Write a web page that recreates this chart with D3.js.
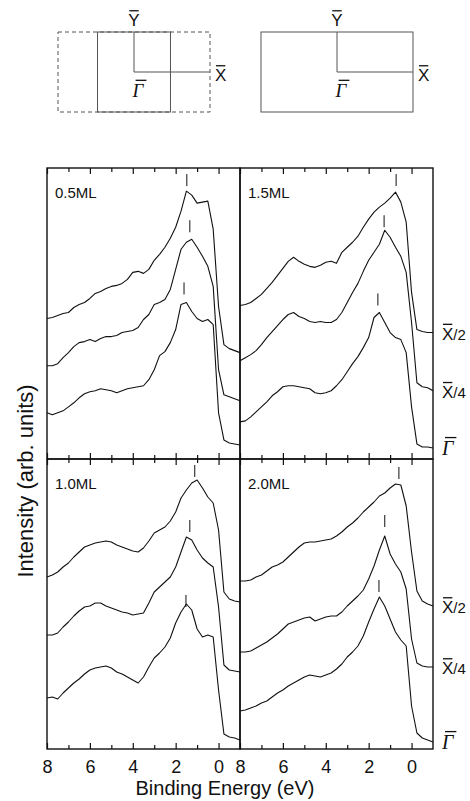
<!DOCTYPE html>
<html>
<head>
<meta charset="utf-8">
<script src="https://cdn.jsdelivr.net/npm/d3@7/dist/d3.min.js"></script>
<style>
  body { margin: 0; background: #fff; }
  svg { display: block; }
  text { font-family: "Liberation Sans", Arial, sans-serif; fill: #111; }
</style>
</head>
<body>
<div id="chart"></div>
<script>
let width = 470,
    height = 801;

// ----- DATA -----
// binding energy grid (eV)
let energy = [8, 7.75, 7.5, 7.25, 7, 6.75, 6.5, 6.25, 6, 5.75, 5.5, 5.25, 5, 4.75, 4.5, 4.25,
              4, 3.75, 3.5, 3.25, 3, 2.75, 2.5, 2.25, 2, 1.75, 1.5, 1.25, 1, 0.75, 0.5, 0.25,
              0, -0.25, -0.5, -0.75, -1];

let coverages = ["0.5ML", "1.5ML", "1.0ML", "2.0ML"];
let kPoints = ["X/2", "X/4", "Γ"];

// intensity (arb. units, curves already offset)
let ml05_x2 = [14.0,14.1,14.3,14.5,14.6,15.1,15.4,15.6,16.0,16.5,16.7,17.0,17.2,17.3,17.5,17.9,18.6,18.7,18.5,18.9,19.8,20.4,21.1,22.0,23.1,24.7,26.7,26.3,25.5,25.6,25.7,22.9,15.2,11.4,11.0,10.8,10.6];
let ml05_x4 = [9.3,9.3,9.5,10.1,10.6,11.2,11.6,11.7,11.9,11.7,12.0,12.2,12.2,12.3,12.6,12.7,12.8,13.1,13.9,14.4,15.4,15.6,15.9,16.9,18.9,20.9,21.6,21.9,21.1,20.2,19.2,17.2,8.9,6.4,6.2,6.0,5.8];
let ml05_g  = [4.6,4.4,4.6,4.8,5.2,5.6,6.1,6.5,6.7,6.8,7.0,6.9,6.8,6.6,6.8,7.0,7.1,7.2,7.3,7.9,8.9,10.3,10.7,11.6,12.9,15.4,15.6,14.7,14.0,13.7,13.9,13.4,4.6,1.9,1.6,1.5,1.4];

let ml15_x2 = [15.3,15.4,15.6,16.0,16.4,17.0,17.6,18.3,19.0,19.7,20.1,19.7,19.4,19.2,19.1,19.3,19.6,19.7,19.5,20.6,21.1,21.6,22.2,23.1,23.9,24.6,25.1,25.5,26.0,26.6,25.6,23.6,16.6,12.9,12.7,12.6,12.6];
let ml15_x4 = [9.8,10.1,10.4,10.8,11.4,12.1,12.7,13.3,13.9,14.4,14.6,14.2,14.0,13.7,13.6,13.7,13.6,13.6,13.9,14.6,15.6,16.6,17.5,18.7,19.8,20.6,21.4,22.8,22.1,21.1,20.2,18.6,13.6,7.6,7.2,7.1,6.8];
let ml15_g  = [3.7,3.8,4.2,4.7,5.2,5.7,6.3,6.7,7.2,7.3,7.3,7.2,7.1,7.0,6.6,6.5,6.6,6.8,7.3,7.9,8.7,9.5,10.2,11.1,12.1,14.1,14.6,13.6,12.6,12.1,11.9,10.6,5.2,1.5,1.2,1.2,1.1];

let ml10_x2 = [17.2,17.4,17.7,18.2,18.6,19.2,19.7,20.2,20.4,20.6,20.7,20.8,20.7,20.4,20.2,20.0,19.8,19.7,20.1,20.8,21.6,21.9,22.2,22.8,23.7,25.1,25.9,26.6,26.9,26.1,25.2,24.6,21.9,15.7,15.0,14.8,14.7];
let ml10_x4 = [11.4,11.4,11.6,12.2,12.7,13.3,13.8,14.2,14.3,14.6,14.6,14.3,14.1,13.9,13.7,13.6,13.4,13.5,13.6,14.6,15.7,16.2,16.7,17.2,18.2,19.7,21.2,20.9,19.9,19.1,18.6,18.2,14.2,8.4,7.9,7.8,7.7];
let ml10_g  = [5.1,5.2,5.0,5.6,6.1,6.6,7.0,7.5,7.9,8.1,8.2,8.3,8.1,7.7,7.5,7.2,6.9,6.6,7.2,8.2,9.1,9.6,10.2,11.1,12.6,13.7,14.5,13.9,12.0,11.2,11.4,11.2,5.9,1.5,1.2,1.1,0.9];

let ml20_x2 = [16.8,16.8,16.9,17.2,17.4,17.8,18.2,18.4,18.7,19.2,19.7,20.2,20.6,20.7,20.7,20.8,20.9,21.0,21.3,21.7,22.2,22.6,23.1,23.7,24.2,24.7,25.3,25.6,26.1,26.5,26.4,24.3,19.7,15.8,14.8,14.5,14.3];
let ml20_x4 = [9.7,9.7,9.8,10.1,10.4,10.7,11.1,11.5,12.0,12.5,12.7,12.9,13.1,13.2,12.8,13.0,13.2,13.3,13.3,13.7,14.3,14.8,15.3,15.9,17.0,18.3,19.9,21.3,19.5,18.5,17.7,16.0,11.0,8.6,8.3,8.2,8.2];
let ml20_g  = [3.8,3.9,4.1,4.3,4.6,4.8,5.2,5.6,5.9,6.3,6.6,6.9,7.2,7.4,7.3,7.2,7.4,7.6,8.0,8.5,9.2,9.7,10.3,11.3,12.7,14.0,15.2,14.3,13.0,11.7,10.9,10.3,4.3,1.6,1.1,0.9,0.7];

// peak markers: energy (eV) and intensity at the foot of the mark
let ml05_markE = [1.48, 1.34, 1.61], ml05_markI = [27.2, 22.6, 16.4];
let ml15_markE = [0.72, 1.28, 1.57], ml15_markI = [27.2, 23.1, 15.3];
let ml10_markE = [1.11, 1.34, 1.52], ml10_markI = [27.2, 21.7, 14.2];
let ml20_markE = [0.59, 1.25, 1.52], ml20_markI = [27.0, 22.2, 15.7];

let majorTicks = [8, 6, 4, 2, 0];
let minorTicks = [7, 5, 3, 1];

let panels = [
  { label: coverages[0], col: 0, row: 0, series: [ml05_x2, ml05_x4, ml05_g], markE: ml05_markE, markI: ml05_markI },
  { label: coverages[1], col: 1, row: 0, series: [ml15_x2, ml15_x4, ml15_g], markE: ml15_markE, markI: ml15_markI },
  { label: coverages[2], col: 0, row: 1, series: [ml10_x2, ml10_x4, ml10_g], markE: ml10_markE, markI: ml10_markI },
  { label: coverages[3], col: 1, row: 1, series: [ml20_x2, ml20_x4, ml20_g], markE: ml20_markE, markI: ml20_markI }
];

// ----- LAYOUT -----
let colX = [[47, 240], [240, 433]];
let rowY = [[459, 168], [749, 459]];

let svg = d3.select("#chart")
            .append("svg")
            .attr("width", width)
            .attr("height", height);

// overline label helper (X̄, Ȳ, Γ̄)
function barLabel(g, x, y, base, rest, opt) {
  let t = g.append("text")
      .attr("x", x)
      .attr("y", y)
      .style("font-size", opt.size + "px");
  let b = t.append("tspan").text(base);
  if (opt.italic) {
    b.style("font-family", '"Liberation Serif", "Times New Roman", serif')
     .style("font-style", "italic");
  }
  if (rest) t.append("tspan").style("font-size", opt.restSize + "px").text(rest);
  let total = t.node().getComputedTextLength();
  let w = b.node().getComputedTextLength();
  let x0 = opt.anchor === "middle" ? x - total / 2 : x;
  t.attr("x", x0);
  let shift = opt.italic ? 2 : 0;
  g.append("line")
      .attr("x1", x0 + shift + 1)
      .attr("x2", x0 + w + shift + (opt.italic ? 1 : -1))
      .attr("y1", y - opt.size * 0.72 - 3)
      .attr("y2", y - opt.size * 0.72 - 3)
      .attr("stroke", "#111")
      .attr("stroke-width", 1.3);
}

// ----- BRILLOUIN ZONE SKETCHES -----
function zone(cx, cy, reconstructed) {
  let kx = d3.scaleLinear().domain([-1, 1]).range([cx - 76, cx + 76]);
  let ky = d3.scaleLinear().domain([-1, 1]).range([cy + 40, cy - 40]);
  let g = svg.append("g")
      .attr("fill", "none")
      .attr("stroke", "#555")
      .attr("stroke-width", 1);

  g.append("rect")
      .attr("x", kx(-1)).attr("y", ky(1))
      .attr("width", kx(1) - kx(-1)).attr("height", ky(-1) - ky(1))
      .attr("stroke-dasharray", reconstructed ? "4,3" : null);

  if (reconstructed) {
    g.append("rect")
        .attr("x", kx(-0.48)).attr("y", ky(1))
        .attr("width", kx(0.48) - kx(-0.48)).attr("height", ky(-1) - ky(1));
  }
  let line = d3.line().x(d => kx(d[0])).y(d => ky(d[1]));
  g.append("path").attr("d", line([[0, 1], [0, 0], [1, 0]]));

  let lg = svg.append("g");
  barLabel(lg, kx(0), ky(1) - 6, "Y", "", { size: 17, anchor: "middle" });
  barLabel(lg, kx(1) + 5, ky(0) + 9, "X", "", { size: 17 });
  barLabel(lg, kx(0) + 4, ky(0) + 25, "Γ", "", { size: 19, italic: true, anchor: "middle" });
}
zone(134, 72, true);
zone(337, 72, false);

// ----- PANELS -----
panels.forEach(p => {
  let xScale = d3.scaleLinear().domain([8, -1]).range(colX[p.col]);
  let yScale = d3.scaleLinear().domain([0, 29]).range(rowY[p.row]);
  let top = rowY[p.row][1], bottom = rowY[p.row][0];
  let g = svg.append("g");

  // ticks, inward on top and bottom
  let isLast = p.row === 1;
  let bMajor = g.append("g")
      .attr("transform", `translate(0,${bottom})`)
      .call(d3.axisBottom(xScale).tickValues(majorTicks).tickSize(-6).tickPadding(11)
            .tickFormat(isLast ? d3.format("d") : () => ""));
  g.append("g")
      .attr("transform", `translate(0,${bottom})`)
      .call(d3.axisBottom(xScale).tickValues(minorTicks).tickSize(-4).tickFormat(() => ""));
  g.append("g")
      .attr("transform", `translate(0,${top})`)
      .call(d3.axisTop(xScale).tickValues(majorTicks).tickSize(-6).tickFormat(() => ""));
  g.append("g")
      .attr("transform", `translate(0,${top})`)
      .call(d3.axisTop(xScale).tickValues(minorTicks).tickSize(-4).tickFormat(() => ""));
  g.selectAll(".domain").remove();
  g.selectAll(".tick line").attr("stroke", "#111").attr("stroke-width", 1.2);
  bMajor.selectAll("text")
      .style("font-size", "18px")
      .style("font-family", '"Liberation Sans", Arial, sans-serif')
      .attr("fill", "#111");

  // frame
  g.append("rect")
      .attr("x", colX[p.col][0]).attr("y", top)
      .attr("width", colX[p.col][1] - colX[p.col][0])
      .attr("height", bottom - top)
      .attr("fill", "none")
      .attr("stroke", "#111")
      .attr("stroke-width", 1.4);

  // spectra
  let line = d3.line()
      .x((d, i) => xScale(energy[i]))
      .y(d => yScale(d));
  p.series.forEach(s => {
    g.append("path")
        .datum(s)
        .attr("d", line)
        .attr("fill", "none")
        .attr("stroke", "#111")
        .attr("stroke-width", 1.1)
        .attr("stroke-linejoin", "round");
  });

  // peak marks
  p.markE.forEach((e, i) => {
    g.append("line")
        .attr("x1", xScale(e)).attr("x2", xScale(e))
        .attr("y1", yScale(p.markI[i])).attr("y2", yScale(p.markI[i]) - 12)
        .attr("stroke", "#111")
        .attr("stroke-width", 1);
  });

  // coverage label
  g.append("text")
      .attr("x", colX[p.col][0] + 8)
      .attr("y", top + 30)
      .style("font-size", "15px")
      .text(p.label);

  // k-point labels on the right
  if (p.col === 1) {
    p.series.forEach((s, i) => {
      let yEnd = yScale(s[s.length - 1]);
      let name = kPoints[i];
      if (name === "Γ") {
        barLabel(g, colX[1][1] + 9, yEnd + 7, "Γ", "", { size: 20, italic: true });
      } else {
        barLabel(g, colX[1][1] + 9, yEnd + 7, "X", name.slice(1), { size: 17, restSize: 15 });
      }
    });
  }
});

// ----- AXIS LABELS -----
svg.append("text")
    .attr("x", 225)
    .attr("y", 795)
    .style("text-anchor", "middle")
    .style("font-size", "20px")
    .text("Binding Energy (eV)");

svg.append("text")
    .attr("transform", "translate(33,481) rotate(-90)")
    .style("text-anchor", "middle")
    .style("font-size", "22px")
    .text("Intensity (arb. units)");
</script>
</body>
</html>
